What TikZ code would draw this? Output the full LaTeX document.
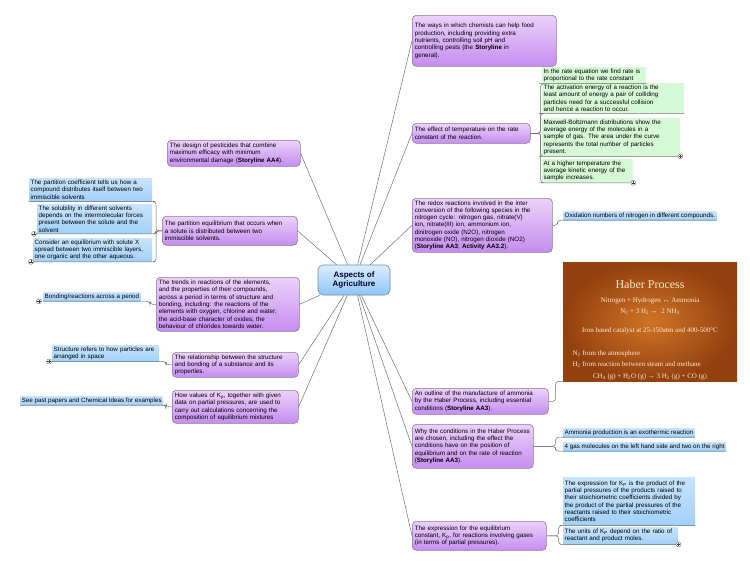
\documentclass[tikz,border=0pt]{standalone}
\usepackage{fontspec}
\setmainfont{Liberation Sans}
\newfontfamily\haberfont{Liberation Serif}
\definecolor{topictop}{HTML}{EBD2FA}
\definecolor{topicbot}{HTML}{C58DEF}
\definecolor{topicedge}{HTML}{8E7A9A}
\definecolor{hubtop}{HTML}{DCEEFF}
\definecolor{hubbot}{HTML}{8FC5F5}
\definecolor{hubedge}{HTML}{6E8CAA}
\definecolor{bluetop}{HTML}{C8E4FD}
\definecolor{bluebot}{HTML}{A2D0F9}
\definecolor{notegreen}{HTML}{D6F9D6}
\definecolor{linkgray}{HTML}{707070}
\definecolor{habermid}{HTML}{CF7426}
\definecolor{haberdark}{HTML}{93400F}
\definecolor{habertext}{HTML}{FBEBD0}
\tikzset{
  every node/.style={font=\fontsize{6.25}{7.3}\selectfont},
  hub/.style={draw=hubedge, line width=0.6pt, rounded corners=5pt, top color=hubtop,
    bottom color=hubbot, align=center, text=black!80!blue,
    font=\fontsize{8}{9.5}\selectfont\bfseries},
  topic/.style={draw=topicedge, line width=0.6pt, rounded corners=4pt, top color=topictop,
    bottom color=topicbot, anchor=north west, align=left, inner xsep=2.5pt, inner ysep=2pt},
  bluenote/.style={top color=bluetop, bottom color=bluebot, anchor=north west,
    align=left, inner sep=1.5pt},
  greennote/.style={fill=notegreen, anchor=north west, align=left, inner sep=1.5pt},
  link/.style={draw=linkgray, line width=0.5pt},
  bracket/.style={link, rounded corners=3pt},
  expander/.style={circle, draw=black!60, fill=white, inner sep=0pt, minimum size=5pt,
    path picture={\draw[black!75, line width=0.4pt]
      ([xshift=-1.6pt]path picture bounding box.center) -- ([xshift=1.6pt]path picture bounding box.center)
      ([yshift=-1.6pt]path picture bounding box.center) -- ([yshift=1.6pt]path picture bounding box.center);}},
  haberbox/.style={anchor=north west, inner color=habermid, outer color=haberdark},
  habertxt/.style={text=habertext, font=\fontsize{7}{8}\haberfont}
}
\begin{document}
\begin{tikzpicture}[x=1pt,y=-1pt]
  \useasboundingbox (0,0) rectangle (750,563);
  % hub
  \node[hub, minimum width=72pt, minimum height=30pt] (aspects) at (354,280) {Aspects of\\Agriculture};
  % main topics, right side
  \node[topic, text width=139pt, minimum height=51pt] (ways) at (412,15)
    {The ways in which chemists can help food\\production, including providing extra\\nutrients, controlling soil pH and\\controlling pests (the \textbf{Storyline} in\\general).};
  \node[topic, text width=113pt, minimum height=20pt] (temp) at (412,123)
    {The effect of temperature on the rate\\constant of the reaction.};
  \node[topic, text width=135pt, minimum height=54pt] (redox) at (412,198)
    {The redox reactions involved in the inter\\conversion of the following species in the\\nitrogen cycle: nitrogen gas, nitrate(V)\\ion, nitrate(III) ion, ammonium ion,\\dinitrogen oxide (N2O), nitrogen\\monoxide (NO), nitrogen dioxide (NO2)\\(\textbf{Storyline AA3}; \textbf{Activity AA3.2}).};
  \node[topic, text width=131pt, minimum height=26pt] (outline) at (412,388)
    {An outline of the manufacture of ammonia\\by the Haber Process, including essential\\conditions (\textbf{Storyline AA3}).};
  \node[topic, text width=116pt, minimum height=44pt] (why) at (412,424)
    {Why the conditions in the Haber Process\\are chosen, including the effect the\\conditions have on the position of\\equilibrium and on the rate of reaction\\(\textbf{Storyline AA3}).};
  \node[topic, text width=129pt, minimum height=29pt] (expr) at (412,521)
    {The expression for the equilibrium\\constant, K\textsubscript{p}, for reactions involving gases\\(in terms of partial pressures).};
  % main topics, left side
  \node[topic, text width=128pt, minimum height=26pt] (pest) at (167,140)
    {The design of pesticides that combine\\maximum efficacy with minimum\\environmental damage (\textbf{Storyline AA4}).};
  \node[topic, text width=130pt, minimum height=29pt] (partition) at (162,216)
    {The partition equilibrium that occurs when\\a solute is distributed between two\\immiscible solvents.};
  \node[topic, text width=138pt, minimum height=54pt] (trends) at (156,277)
    {The trends in reactions of the elements,\\and the properties of their compounds,\\across a period in terms of structure and\\bonding, including: the reactions of the\\elements with oxygen, chlorine and water;\\the acid-base character of oxides; the\\behaviour of chlorides towards water.};
  \node[topic, text width=121pt, minimum height=25pt] (struct) at (172,352)
    {The relationship between the structure\\and bonding of a substance and its\\properties.};
  \node[topic, text width=121pt, minimum height=33pt] (kpcalc) at (172,390)
    {How values of K\textsubscript{p}, together with given\\data on partial pressures, are used to\\carry out calculations concerning the\\composition of equilibrium mixtures};
  % notes
  \node[greennote, text width=101pt, minimum height=15pt] (rateeq) at (542,67)
    {In the rate equation we find rate is\\proportional to the rate constant};
  \node[greennote, text width=139pt, minimum height=30pt] (activ) at (542,83)
    {The activation energy of a reaction is the\\least amount of energy a pair of colliding\\particles need for a successful collision\\and hence a reaction to occur.};
  \node[greennote, text width=135pt, minimum height=36pt] (maxwell) at (542,118)
    {Maxwell-Boltzmann distributions show the\\average energy of the molecules in a\\sample of gas. The area under the curve\\represents the total number of particles\\present.};
  \node[greennote, text width=88pt, minimum height=22pt] (kinetic) at (542,159)
    {At a higher temperature the\\average kinetic energy of the\\sample increases.};
  \node[bluenote, minimum height=8pt] (oxid) at (563,211)
    {Oxidation numbers of nitrogen in different compounds.};
  \node[bluenote, minimum height=8pt] (exo) at (563,428)
    {Ammonia production is an exothermic reaction};
  \node[bluenote, minimum height=8pt] (fourgas) at (563,442)
    {4 gas molecules on the left hand side and two on the right};
  \node[bluenote, text width=129pt, minimum height=48pt] (kpexpr) at (563,477)
    {The expression for K\textsubscript{P} is the product of the\\partial pressures of the products raised to\\their stoichiometric coefficients divided by\\the product of the partial pressures of the\\reactants raised to their stoichiometric\\coefficients};
  \node[bluenote, text width=112pt, minimum height=17pt] (units) at (563,527)
    {The units of K\textsubscript{P} depend on the ratio of\\reactant and product moles.};
  \node[bluenote, text width=120pt, minimum height=23pt] (partcoef) at (29,178)
    {The partition coefficient tells us how a\\compound distributes itself between two\\immiscible solvents};
  \node[bluenote, text width=112pt, minimum height=29pt] (solub) at (37,204)
    {The solubility in different solvents\\depends on the intermolecular forces\\present between the solute and the\\solvent};
  \node[bluenote, text width=116pt, minimum height=23pt] (layers) at (33,238)
    {Consider an equilibrium with solute X\\spread between two immiscible layers,\\one organic and the other aqueous.};
  \node[bluenote, minimum height=8pt] (bonding) at (43,292)
    {Bonding/reactions across a period};
  \node[bluenote, text width=104pt, minimum height=14pt] (arrange) at (52,345)
    {Structure refers to how particles are\\arranged in space};
  \node[bluenote, minimum height=8pt] (pastpapers) at (20,396)
    {See past papers and Chemical Ideas for examples};
  % haber process slide
  \node[haberbox, minimum width=174pt, minimum height=119pt] (haber) at (563,262) {};
  \node[habertxt, font=\fontsize{12}{14}\haberfont] (habertitle) at (650,284) {Haber Process};
  \node[habertxt] (haberwords) at (650,301) {Nitrogen + Hydrogen ↔ Ammonia};
  \node[habertxt] (haberformula) at (650,312) {N\textsubscript{2} + 3 H\textsubscript{2} ↔\ \ 2 NH\textsubscript{3}};
  \node[habertxt] (habercat) at (650,331) {Iron based catalyst at 25-150atm and 400-500°C};
  \node[habertxt, anchor=west] (haberntwo) at (569,354) {N\textsubscript{2} from the atmosphere};
  \node[habertxt, anchor=west] (haberhtwo) at (569,365) {H\textsubscript{2} from reaction between steam and methane};
  \node[habertxt] (habersteam) at (650,377) {CH\textsubscript{4} (g) + H\textsubscript{2}O (g) → 3 H\textsubscript{2} (g) + CO (g)};
  \begin{scope}[link]
    \draw (aspects) to (ways.west);
    \draw (aspects) to (temp.west);
    \draw (aspects) to (redox.west);
    \draw (aspects) to (outline.west);
    \draw (aspects) to (why.west);
    \draw (aspects) to (expr.west);
    \draw (aspects) to (pest.east);
    \draw (aspects) to (partition.east);
    \draw (aspects) to (trends.east);
    \draw (aspects) to (struct.east);
    \draw (aspects) to (kpcalc.east);
  \end{scope}
  \begin{scope}[bracket]
    \draw (temp.east) -- ++(10,0) |- (rateeq.south west) -- (rateeq.south east);
    \draw (temp.east) -- ++(10,0) |- (activ.south west) -- (activ.south east);
    \draw (temp.east) -- ++(10,0) |- (maxwell.south west) -- (maxwell.south east);
    \draw (temp.east) -- ++(10,0) |- (kinetic.south west) -- (kinetic.south east);
    \draw (redox.east) -- ++(5,0) |- (oxid.south west) -- (oxid.south east);
    \draw (outline.east) -- ++(7,0) |- (haber.south west);
    \draw (why.east) -- ++(22,0) |- (exo.south west) -- (exo.south east);
    \draw (why.east) -- ++(22,0) |- (fourgas.south west) -- (fourgas.south east);
    \draw (expr.east) -- ++(12,0) |- (kpexpr.south west) -- (kpexpr.south east);
    \draw (expr.east) -- ++(12,0) |- (units.south west) -- (units.south east);
    \draw (partition.west) -- ++(-6,0) |- (partcoef.south east) -- (partcoef.south west);
    \draw (partition.west) -- ++(-6,0) |- (solub.south east) -- (solub.south west);
    \draw (partition.west) -- ++(-6,0) |- (layers.south east) -- (layers.south west);
    \draw (trends.west) -- ++(-6,0) |- (bonding.south east) -- (bonding.south west);
    \draw (struct.west) -- ++(-6,0) |- (arrange.south east) -- (arrange.south west);
    \draw (kpcalc.west) -- ++(-6,0) |- (pastpapers.south east) -- (pastpapers.south west);
  \end{scope}
  % collapsed branches
  \node[expander] (maxwellplus) at (maxwell.south east) {};
  \node[expander] (kineticplus) at (kinetic.south east) {};
  \node[expander] (unitsplus) at (units.south east) {};
  \node[expander] (solubplus) at ([xshift=-3pt]solub.south west) {};
  \node[expander] (layersplus) at ([xshift=-2pt]layers.south west) {};
  \node[expander] (bondingplus) at ([xshift=-4pt]bonding.south west) {};
  \node[expander] (arrangeplus) at ([xshift=-3pt]arrange.south west) {};
\end{tikzpicture}
\end{document}
